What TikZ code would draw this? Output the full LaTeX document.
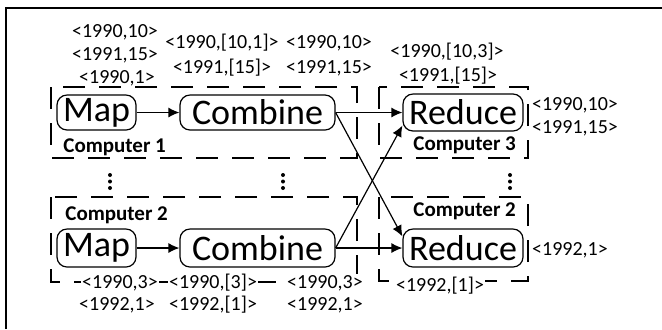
\documentclass[tikz,border=0pt]{standalone}
\usepackage{fontspec}
\setmainfont{Carlito}
\usetikzlibrary{arrows.meta,calc}
\tikzset{
  proc/.style={draw,line width=0.6pt,rounded corners=5pt,inner sep=0pt,font=\fontsize{18}{20}\selectfont},
  lbl/.style={inner sep=0pt,font=\fontsize{10}{12}\selectfont},
  wlbl/.style={lbl,fill=white,inner sep=0.5pt},
  comp/.style={inner sep=0pt,anchor=west,font=\fontsize{10.5}{12}\selectfont\bfseries},
  grp/.style={line width=0.6pt,dash pattern=on 11pt off 7pt},
  arr/.style={line width=0.6pt,-{Latex[length=5.5pt,width=5pt]}},
  frame/.style={line width=1pt},
}
\begin{document}
\begin{tikzpicture}[x=0.5pt,y=-0.5pt]
\useasboundingbox (0,0) rectangle (662,329);
\draw[frame] (5.5,329) -- (5.5,7.5) -- (662,7.5);
% group boxes
\draw[grp] (51,87) rectangle (357,158);
\draw[grp] (379,87) rectangle (528,158);
\draw[grp] (51,197) rectangle (357,282);
\draw[grp] (379,197) rectangle (528,281);
% process nodes
\node[proc,minimum width=39.5pt,minimum height=17.5pt] (map1) at (96.5,112.5) {Map};
\node[proc,minimum width=77.5pt,minimum height=17.5pt] (comb1) at (257.5,112.5) {Combine};
\node[proc,minimum width=60pt,minimum height=18.5pt] (red1) at (463,112.5) {Reduce};
\node[proc,minimum width=39.5pt,minimum height=19pt] (map2) at (96.5,248) {Map};
\node[proc,minimum width=77.5pt,minimum height=19pt] (comb2) at (257.5,248) {Combine};
\node[proc,minimum width=60pt,minimum height=19pt] (red2) at (463,248) {Reduce};
% connectors
\coordinate (r2in) at ($(red2.north west)+(0,8)$);
\coordinate (r1in) at ($(red1.south west)+(0,-6)$);
\draw[arr] (map1) -- (comb1);
\draw[arr] (map2) -- (comb2);
\draw[arr] (comb1.east) -- (red1.west);
\draw[arr] (comb1.east) -- (r2in);
\draw[arr] (comb2.east) -- (r1in);
\draw[arr] (comb2.east) -- (red2.west);
% group labels
\node[comp] (c1) at (63,147) {Computer 1};
\node[comp] (c3) at (413,145) {Computer 3};
\node[comp] (c2a) at (65,215) {Computer 2};
\node[comp] (c2b) at (413,211) {Computer 2};
% dots
\foreach \x in {110,283,510}{
  \foreach \y in {175,181.5,188}{
    \fill (\x,\y) circle (2);
  }
}
% top labels
\node[lbl] (t1) at (115,32) {\textless1990,10\textgreater};
\node[lbl] (t2) at (115,55) {\textless1991,15\textgreater};
\node[lbl] (t3) at (117,78) {\textless1990,1\textgreater};
\node[lbl] (t4) at (222,43) {\textless1990,[10,1]\textgreater};
\node[lbl] (t5) at (222,68) {\textless1991,[15]\textgreater};
\node[lbl] (t6) at (329,43) {\textless1990,10\textgreater};
\node[lbl] (t7) at (329,68) {\textless1991,15\textgreater};
\node[lbl] (t8) at (447,52) {\textless1990,[10,3]\textgreater};
\node[lbl] (t9) at (448,76) {\textless1991,[15]\textgreater};
\node[lbl] (t10) at (575,105) {\textless1990,10\textgreater};
\node[lbl] (t11) at (575,128) {\textless1991,15\textgreater};
% bottom labels
\node[wlbl] (b1) at (120,283) {\textless1990,3\textgreater};
\node[lbl] (b2) at (117,305) {\textless1992,1\textgreater};
\node[wlbl] (b3) at (213,283) {\textless1990,[3]\textgreater};
\node[lbl] (b4) at (213,305) {\textless1992,[1]\textgreater};
\node[wlbl] (b5) at (325,283) {\textless1990,3\textgreater};
\node[lbl] (b6) at (325,305) {\textless1992,1\textgreater};
\node[wlbl] (b7) at (440,286) {\textless1992,[1]\textgreater};
\node[lbl] (b8) at (570,250) {\textless1992,1\textgreater};
\end{tikzpicture}
\end{document}
